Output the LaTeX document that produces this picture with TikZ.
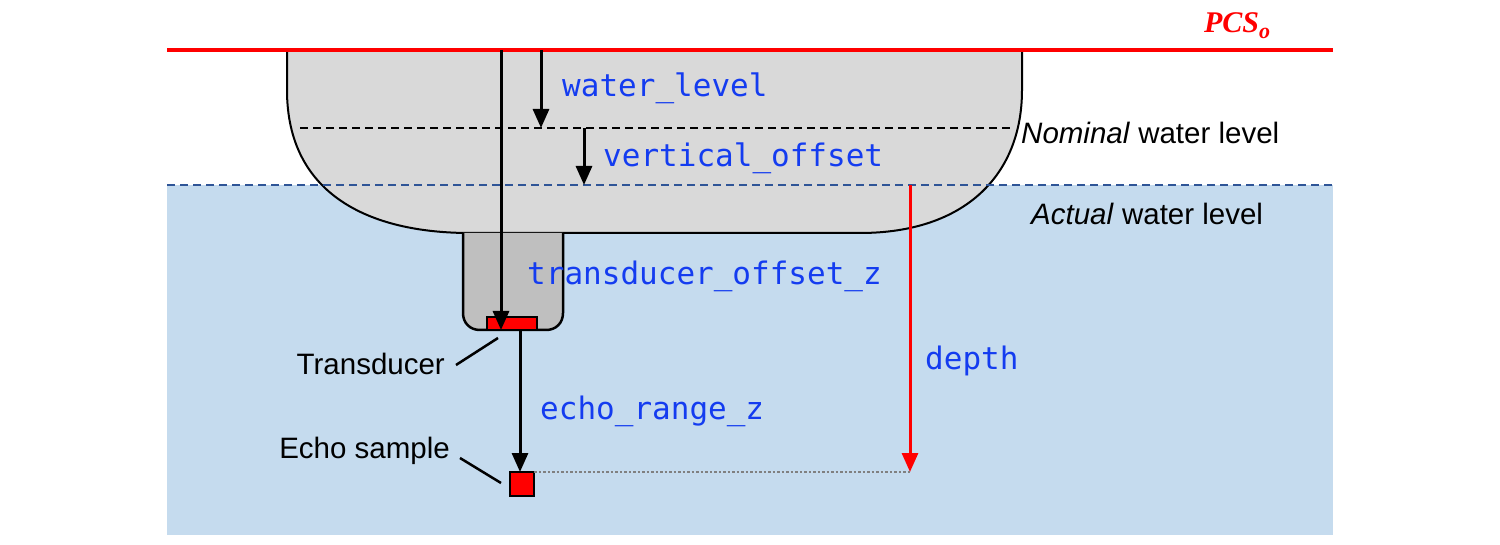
\documentclass[tikz,border=0pt]{standalone}
\usepackage{fontspec}
\setmainfont{Liberation Sans}
\setmonofont{DejaVu Sans Mono}
\newfontfamily\serifb{Liberation Serif}
\usetikzlibrary{arrows.meta}
\definecolor{water}{RGB}{197,219,238}
\definecolor{hull}{RGB}{217,217,217}
\definecolor{housing}{RGB}{191,191,191}
\definecolor{lbl}{RGB}{20,60,240}
\definecolor{actual}{RGB}{47,85,151}
\definecolor{myred}{RGB}{255,0,0}
\begin{document}
\begin{tikzpicture}[x=1pt,y=-1pt,
  arr/.style={line width=3pt,-{Triangle[length=19pt,width=16pt]}},
  code/.style={text=lbl,font=\ttfamily\fontsize{31}{31}\selectfont,anchor=west,inner sep=0},
  txt/.style={font=\fontsize{29.5}{29.5}\selectfont,inner sep=0},
  lead/.style={line width=2.5pt}]
\useasboundingbox (0,0) rectangle (1500,545);
\fill[water] (167,185) rectangle (1333,535);
\draw[black,line width=2pt,fill=hull] (287,50) -- (287,90) .. controls (287,195) and (370,233) .. (470,233) -- (860,233) .. controls (965,233) and (1022,175) .. (1022,90) -- (1022,50);
\draw[black,line width=2.5pt,fill=housing] (463,233) -- (463,313) .. controls (463,323) and (470,330) .. (480,330) -- (546,330) .. controls (556,330) and (563,323) .. (563,313) -- (563,233);
\draw[line width=2pt,dash pattern=on 8pt off 5pt] (300,128) coordinate(nom) -- (1012,128);
\draw[actual,line width=2pt,dash pattern=on 8pt off 5pt] (167,185) coordinate(act) -- (1333,185);
\draw[myred,line width=3.5pt] (167,50) -- (1333,50);
\node[text=myred,font=\serifb\bfseries\itshape\fontsize{30}{30}\selectfont] (pcs) at (1237,26) {PCS\raisebox{-6pt}{\fontsize{22}{22}\selectfont o}};
\node[draw=black,line width=2.5pt,fill=myred,minimum width=50pt,minimum height=13pt,inner sep=0] (tr) at (512,323.5) {};
\node[draw=black,line width=2.5pt,fill=myred,minimum width=24pt,minimum height=24pt,inner sep=0] (es) at (522,484) {};
\coordinate (t0) at (501,50);
\coordinate (t1) at (501,330);
\draw[arr] (t0) -- (t1);
\coordinate (w0) at (541,50); \coordinate (w1) at (541,128);
\draw[arr] (w0) -- (w1);
\coordinate (v0) at (584,128); \coordinate (v1) at (584,185);
\draw[arr] (v0) -- (v1);
\coordinate (e0) at (520,330); \coordinate (e1) at (520,472);
\draw[arr] (e0) -- (e1);
\coordinate (d0) at (910,185); \coordinate (d1) at (910,472);
\draw[myred,line width=3pt,-{Triangle[length=19pt,width=16pt]}] (d0) -- (d1);
\draw[gray,line width=2.5pt,dotted] (534,472) -- (d1);
\node[code] (wl) at (562,88) {water\_level};
\node[code] (vo) at (603,158) {vertical\_offset};
\node[code] (tz) at (527,276) {transducer\_offset\_z};
\node[code] (ez) at (540,411) {echo\_range\_z};
\node[code] (dp) at (925,361) {depth};
\node[txt,anchor=west] (nl) at (1021,133) {\textit{Nominal} water level};
\node[txt,anchor=west] (al) at (1031,214) {\textit{Actual} water level};
\node[txt,anchor=east] (tl) at (445,364) {Transducer};
\node[txt,anchor=east] (el) at (450,451) {Echo sample};
\draw[lead] (456,365) -- (498,338);
\draw[lead] (460,458) -- (501,483);
\end{tikzpicture}
\end{document}
